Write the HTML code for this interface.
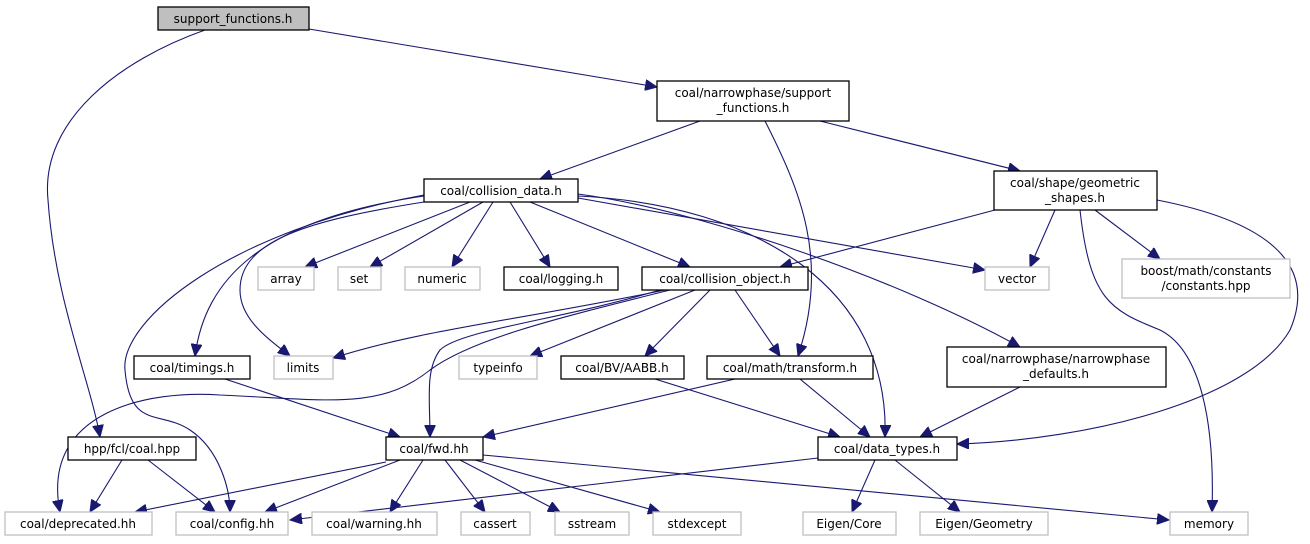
<!DOCTYPE html>
<html><head><meta charset="utf-8"><style>
html,body{margin:0;padding:0;background:#fff;}
svg{display:block;}
text{font-family:"DejaVu Sans","Liberation Sans",sans-serif;font-size:12px;fill:#000;}
.n{fill:#fff;stroke:#000;stroke-width:1.3;}
.g{fill:#fff;stroke:#bfbfbf;stroke-width:1.3;}
.e{fill:none;stroke:#191970;stroke-width:1.1;}
</style></head><body>
<svg width="1310" height="544" viewBox="0 0 1310 544" xmlns="http://www.w3.org/2000/svg">
<defs><marker id="a" markerUnits="userSpaceOnUse" markerWidth="13" markerHeight="11" refX="12" refY="5.5" orient="auto"><path d="M0,0 L12,5.5 L0,11 Z" fill="#191970" stroke="#191970"/></marker></defs>
<g marker-end="url(#a)">
<path class="e" d="M309,29 L657,87"/>
<path class="e" d="M205,30 C120,60 40,120 48,200 C55,300 90,380 100,437"/>
<path class="e" d="M700,121 L540,179"/>
<path class="e" d="M765,121 C800,190 830,260 798,356"/>
<path class="e" d="M820,121 L1020,171"/>
<path class="e" d="M470,202 L305,267"/>
<path class="e" d="M483,202 L370,267"/>
<path class="e" d="M493,202 L452,267"/>
<path class="e" d="M510,202 L550,267"/>
<path class="e" d="M530,202 L690,267"/>
<path class="e" d="M578,198 L985,270"/>
<path class="e" d="M578,194 C700,210 900,280 1020,347"/>
<path class="e" d="M578,196 C760,205 890,290 885,437"/>
<path class="e" d="M424,196 C260,220 205,280 195,356"/>
<path class="e" d="M424,202 C310,220 240,240 240,290 C240,320 270,340 290,356"/>
<path class="e" d="M424,195 C230,230 120,320 125,370 C130,430 160,410 190,430 C220,450 230,490 230,512"/>
<path class="e" d="M995,210 L780,267"/>
<path class="e" d="M1055,210 L1030,267"/>
<path class="e" d="M1095,210 L1160,259"/>
<path class="e" d="M1080,210 C1090,300 1110,310 1160,330 C1200,350 1215,420 1212,512"/>
<path class="e" d="M1157,200 C1260,220 1320,260 1290,330 C1250,400 1090,440 957,444"/>
<path class="e" d="M665,290 C520,320 420,330 333,358"/>
<path class="e" d="M670,290 C550,320 470,340 430,370 C380,410 330,400 220,395 C150,390 40,410 60,512"/>
<path class="e" d="M660,290 C560,320 460,330 440,350 C425,370 430,400 430,437"/>
<path class="e" d="M695,290 L530,356"/>
<path class="e" d="M710,290 L645,356"/>
<path class="e" d="M735,290 L780,356"/>
<path class="e" d="M225,379 L400,437"/>
<path class="e" d="M735,379 L483,437"/>
<path class="e" d="M800,379 L870,437"/>
<path class="e" d="M655,379 L840,437"/>
<path class="e" d="M1020,387 L920,437"/>
<path class="e" d="M122,460 L90,512"/>
<path class="e" d="M148,460 L215,512"/>
<path class="e" d="M386,462 L135,512"/>
<path class="e" d="M400,460 L265,512"/>
<path class="e" d="M423,460 L390,512"/>
<path class="e" d="M445,460 L485,512"/>
<path class="e" d="M460,460 L560,512"/>
<path class="e" d="M475,460 L660,512"/>
<path class="e" d="M483,455 L1169,520"/>
<path class="e" d="M818,458 L290,520"/>
<path class="e" d="M875,460 L852,512"/>
<path class="e" d="M895,460 L960,512"/>
</g>
<g text-anchor="middle">
<rect x="158" y="7" width="151" height="23" fill="#bfbfbf" stroke="#000" stroke-width="1.3"/><text x="233" y="23">support_functions.h</text>
<rect class="n" x="657" y="81" width="192" height="40"/><text x="753" y="97">coal/narrowphase/support</text><text x="753" y="112">_functions.h</text>
<rect class="n" x="424" y="179" width="154" height="23"/><text x="501" y="195">coal/collision_data.h</text>
<rect class="n" x="994" y="171" width="163" height="39"/><text x="1075" y="187">coal/shape/geometric</text><text x="1075" y="202">_shapes.h</text>
<rect class="g" x="258" y="267" width="56" height="23"/><text x="286" y="283">array</text>
<rect class="g" x="338" y="267" width="43" height="23"/><text x="359" y="283">set</text>
<rect class="g" x="405" y="267" width="75" height="23"/><text x="442" y="283">numeric</text>
<rect class="n" x="504" y="267" width="114" height="23"/><text x="561" y="283">coal/logging.h</text>
<rect class="n" x="642" y="267" width="166" height="23"/><text x="725" y="283">coal/collision_object.h</text>
<rect class="g" x="985" y="267" width="64" height="23"/><text x="1017" y="283">vector</text>
<rect class="g" x="1122" y="259" width="168" height="39"/><text x="1206" y="275">boost/math/constants</text><text x="1206" y="290">/constants.hpp</text>
<rect class="n" x="134" y="356" width="116" height="23"/><text x="192" y="372">coal/timings.h</text>
<rect class="g" x="274" y="356" width="59" height="23"/><text x="303" y="372">limits</text>
<rect class="g" x="459" y="356" width="78" height="23"/><text x="498" y="372">typeinfo</text>
<rect class="n" x="561" y="356" width="123" height="23"/><text x="622" y="372">coal/BV/AABB.h</text>
<rect class="n" x="707" y="356" width="166" height="23"/><text x="790" y="372">coal/math/transform.h</text>
<rect class="n" x="947" y="347" width="219" height="40"/><text x="1056" y="363">coal/narrowphase/narrowphase</text><text x="1056" y="378">_defaults.h</text>
<rect class="n" x="68" y="437" width="128" height="23"/><text x="132" y="453">hpp/fcl/coal.hpp</text>
<rect class="n" x="386" y="437" width="97" height="23"/><text x="434" y="453">coal/fwd.hh</text>
<rect class="n" x="818" y="437" width="139" height="23"/><text x="887" y="453">coal/data_types.h</text>
<rect class="g" x="5" y="512" width="147" height="23"/><text x="78" y="528">coal/deprecated.hh</text>
<rect class="g" x="176" y="512" width="112" height="23"/><text x="232" y="528">coal/config.hh</text>
<rect class="g" x="312" y="512" width="125" height="23"/><text x="374" y="528">coal/warning.hh</text>
<rect class="g" x="461" y="512" width="69" height="23"/><text x="495" y="528">cassert</text>
<rect class="g" x="555" y="512" width="74" height="23"/><text x="592" y="528">sstream</text>
<rect class="g" x="653" y="512" width="88" height="23"/><text x="697" y="528">stdexcept</text>
<rect class="g" x="803" y="512" width="93" height="23"/><text x="849" y="528">Eigen/Core</text>
<rect class="g" x="920" y="512" width="128" height="23"/><text x="984" y="528">Eigen/Geometry</text>
<rect class="g" x="1170" y="512" width="78" height="23"/><text x="1209" y="528">memory</text>
</g>
</svg>
</body></html>
